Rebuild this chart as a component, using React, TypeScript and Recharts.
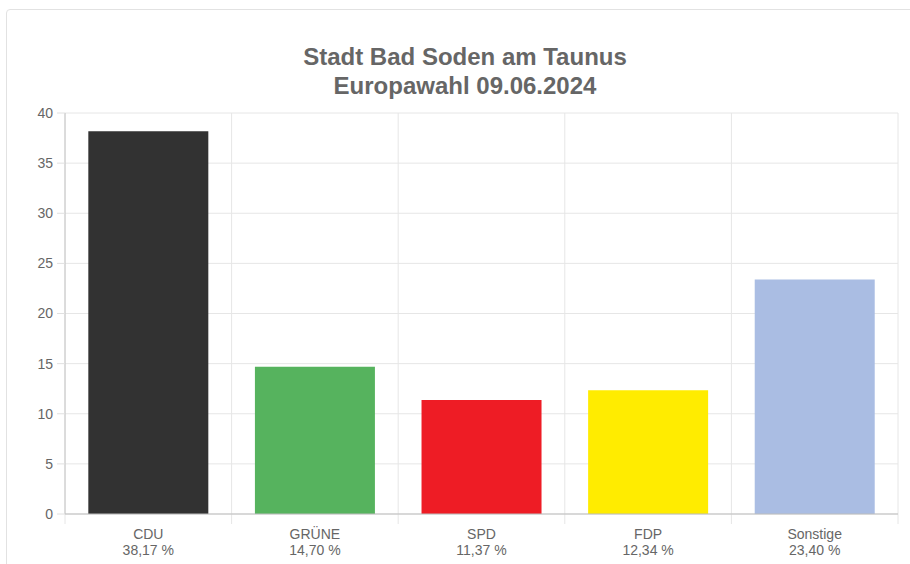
import React from "react";
import { BarChart, Bar, XAxis, YAxis, CartesianGrid, Cell } from "recharts";

const parties = ["CDU", "GRÜNE", "SPD", "FDP", "Sonstige"];
const shares = [38.17, 14.7, 11.37, 12.34, 23.4];
const shareLabels = ["38,17 %", "14,70 %", "11,37 %", "12,34 %", "23,40 %"];
const colors = ["#323232", "#56b35e", "#ee1c25", "#ffec00", "#aabde3"];
const yTicks = [0, 5, 10, 15, 20, 25, 30, 35, 40];
const titleLines = ["Stadt Bad Soden am Taunus", "Europawahl 09.06.2024"];

const data = parties.map((p, i) => ({ party: p, share: shares[i], label: shareLabels[i] }));

const FONT = "'Liberation Sans', Arial, sans-serif";

const CatTick = (props: any) => {
  const { x, y, payload, index } = props;
  return (
    <text x={x} y={y} textAnchor="middle" fill="#666" fontSize={14} fontFamily={FONT}>
      <tspan x={x} dy={17}>{payload.value}</tspan>
      <tspan x={x} dy={16}>{shareLabels[index]}</tspan>
    </text>
  );
};

const boundaryGenerator = (props: any) => {
  const { offset } = props;
  const n = parties.length;
  return Array.from({ length: n + 1 }, (_, i) => offset.left + (offset.width * i) / n);
};

export default function App() {
  return (
    <div style={{ position: "fixed", left: 0, top: 0, width: 910, height: 564, overflow: "hidden", background: "#fff" }}>
      <div
        style={{
          position: "absolute",
          left: 6,
          top: 9,
          width: 940,
          height: 600,
          border: "1px solid #e2e2e2",
          borderRadius: 4,
        }}
      />
      <div
        style={{
          position: "absolute",
          left: 0,
          width: 930,
          top: 42,
          textAlign: "center",
          fontFamily: FONT,
          fontWeight: "bold",
          fontSize: 24,
          lineHeight: "29px",
          color: "#666",
        }}
      >
        {titleLines.map((t) => (
          <div key={t}>{t}</div>
        ))}
      </div>
      <div style={{ position: "absolute", left: 0, top: 0 }}>
        <BarChart
          width={910}
          height={564}
          data={data}
          margin={{ top: 113, right: 12, left: 0, bottom: 0 }}
          barCategoryGap="14%"
        >
          <CartesianGrid
            stroke="#e6e6e6"
            y={113}
            height={411}
            verticalCoordinatesGenerator={boundaryGenerator}
          />
          <XAxis
            dataKey="party"
            height={50}
            tickLine={false}
            axisLine={{ stroke: "#bdbdbd" }}
            tick={<CatTick />}
            interval={0}
          />
          <YAxis
            domain={[0, 40]}
            ticks={yTicks}
            width={65}
            tickSize={8}
            tickMargin={4}
            axisLine={{ stroke: "#c4c4c4" }}
            tickLine={{ stroke: "#e0e0e0" }}
            tick={{ fill: "#666", fontSize: 14, fontFamily: FONT }}
            allowDataOverflow
          />
          <Bar dataKey="share" isAnimationActive={false}>
            {data.map((d, i) => (
              <Cell key={d.party} fill={colors[i]} />
            ))}
          </Bar>
        </BarChart>
      </div>
    </div>
  );
}
